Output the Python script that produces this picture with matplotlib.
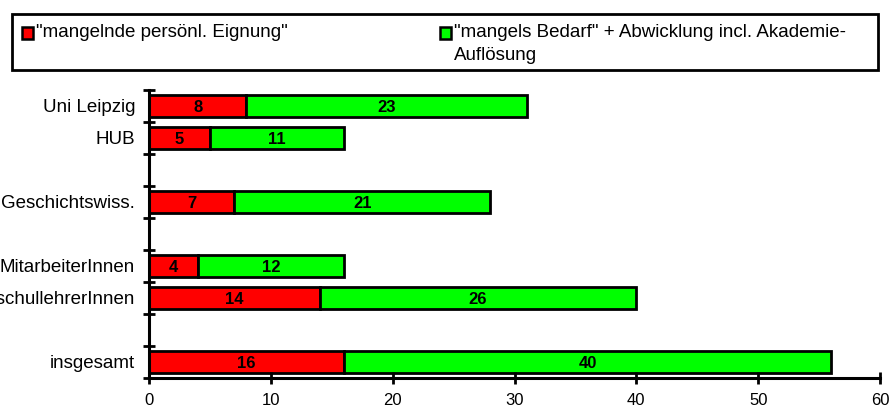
import numpy as np
import matplotlib.pyplot as plt
from matplotlib.patches import Rectangle

plt.rcParams['font.family'] = ['Liberation Sans', 'DejaVu Sans']

# categories (empty strings = gaps in the original layout)
categories = ['Uni Leipzig', 'HUB', '', 'Geschichtswiss.', '',
              'MitarbeiterInnen', 'HochschullehrerInnen', '', 'insgesamt']
red_vals = [8, 5, np.nan, 7, np.nan, 4, 14, np.nan, 16]
green_vals = [23, 11, np.nan, 21, np.nan, 12, 26, np.nan, 40]
series_names = ['"mangelnde persönl. Eignung"',
                '"mangels Bedarf" + Abwicklung incl. Akademie-\nAuflösung']
colors = ['#ff0000', '#00ff00']
xticks = [0, 10, 20, 30, 40, 50, 60]

W, H = 890, 408
fig = plt.figure(figsize=(W / 100, H / 100), dpi=100)
ax = fig.add_axes([149 / W, 30 / H, 731 / W, 288 / H])

red = np.array(red_vals, dtype=float)
green = np.array(green_vals, dtype=float)
pos = np.arange(len(categories))
ok = ~np.isnan(red)

ax.barh(pos[ok], red[ok], height=0.7, color=colors[0], edgecolor='black', linewidth=2)
ax.barh(pos[ok], green[ok], left=red[ok], height=0.7, color=colors[1], edgecolor='black', linewidth=2)

for p, r, g in zip(pos[ok], red[ok], green[ok]):
    ax.text(r / 2, p, '%d' % r, ha='center', va='center_baseline', fontsize=12, fontweight='bold')
    ax.text(r + g / 2, p, '%d' % g, ha='center', va='center_baseline', fontsize=12, fontweight='bold')

ax.set_xlim(0, 60)
ax.set_ylim(len(categories) - 0.5, -0.5)
ax.set_xticks(xticks)
ax.set_yticks(pos)
ax.set_yticklabels(categories, fontsize=13.5)
ax.set_yticks(np.arange(len(categories) + 1) - 0.5, minor=True)
ax.tick_params(axis='y', which='major', length=0, pad=10)
ax.tick_params(axis='y', which='minor', length=9, width=2, direction='inout')
ax.tick_params(axis='x', length=9, width=2, direction='inout', labelsize=12, pad=6)

for s in ['top', 'right']:
    ax.spines[s].set_visible(False)
for s in ['left', 'bottom']:
    ax.spines[s].set_linewidth(2.2)

# legend box
fig.patches.append(Rectangle((12 / W, 1 - 70 / H), 866 / W, 56 / H, transform=fig.transFigure,
                             facecolor='white', edgecolor='black', linewidth=2))
legend_x = [22, 440]
for x, name, c in zip(legend_x, series_names, colors):
    fig.patches.append(Rectangle((x / W, 1 - 39 / H), 11 / W, 12 / H, transform=fig.transFigure,
                                 facecolor=c, edgecolor='black', linewidth=1.8))
    fig.text((x + 14) / W, 1 - 24 / H, name, fontsize=13.5, va='top', ha='left', linespacing=1.5)

plt.savefig('out.png', dpi=100)
